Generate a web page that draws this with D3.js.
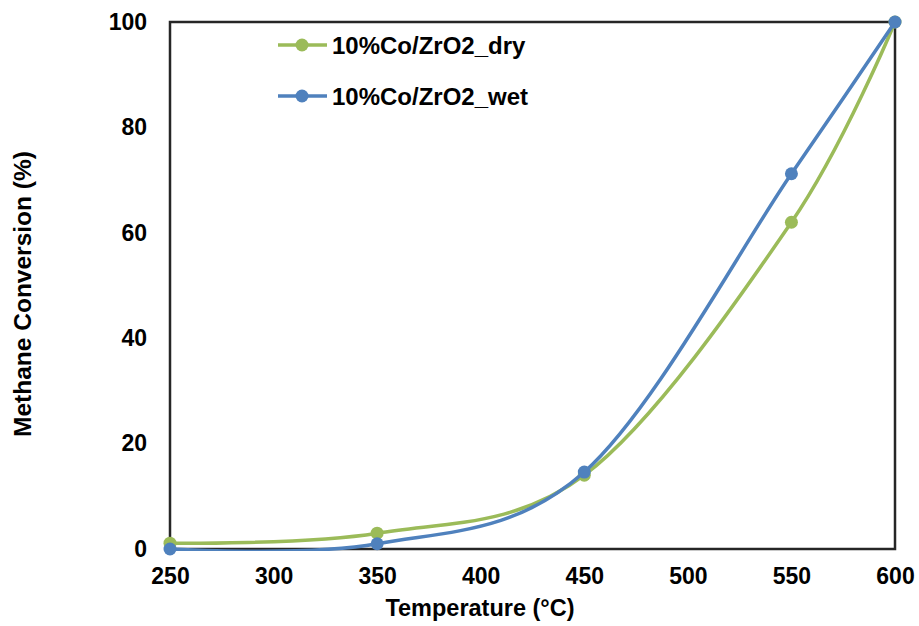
<!DOCTYPE html>
<html><head><meta charset="utf-8">
<script src="https://cdn.jsdelivr.net/npm/d3@7"></script>
<style>body{margin:0;background:#fff}svg{display:block;font-family:Arial,"Liberation Sans",sans-serif;font-weight:bold}</style>
</head><body><svg id="c" width="919" height="626"></svg>
<script>
const temps = [250, 350, 450, 550, 600];
const dryValues = [1.1, 3.0, 14.0, 62.0, 100];
const wetValues = [0.0, 1.0, 14.6, 71.2, 100];
const seriesNames = ["10%Co/ZrO2_dry", "10%Co/ZrO2_wet"];
const seriesColors = ["#9BBB59", "#4F81BD"];
const xTicks = [250, 300, 350, 400, 450, 500, 550, 600];
const yTicks = [0, 20, 40, 60, 80, 100];

const svg = d3.select("#c");
const L = 170, R = 895, T = 22, B = 549;
const x = d3.scaleLinear().domain([250, 600]).range([L, R]);
const y = d3.scaleLinear().domain([0, 100]).range([B, T]);
const FF = "Arial, 'Liberation Sans', sans-serif";

svg.append("rect").attr("width", 919).attr("height", 626).attr("fill", "#fff");
svg.append("clipPath").attr("id", "clip").append("rect")
  .attr("x", 0).attr("y", 0).attr("width", 919).attr("height", B + 2);

const xa = svg.append("g").attr("transform", `translate(0,${B})`)
  .call(d3.axisBottom(x).tickValues(xTicks).tickSize(0).tickPadding(19));
xa.select(".domain").remove();
xa.selectAll("text").attr("font-size", 23).attr("font-weight", "bold").attr("fill", "#000").attr("font-family", FF);
const ya = svg.append("g").attr("transform", `translate(${L},0)`)
  .call(d3.axisLeft(y).tickValues(yTicks).tickSize(0).tickPadding(23));
ya.select(".domain").remove();
ya.selectAll("text").attr("font-size", 23).attr("font-weight", "bold").attr("fill", "#000").attr("font-family", FF);

svg.append("rect").attr("x", L).attr("y", T).attr("width", R - L).attr("height", B - T)
  .attr("fill", "none").attr("stroke", "#262626").attr("stroke-width", 2.5);

const data = [dryValues, wetValues];
const line = d3.line().x((d, i) => x(temps[i])).y(d => y(d)).curve(d3.curveCardinal.tension(0));
data.forEach((vals, k) => {
  svg.append("path").attr("d", line(vals)).attr("fill", "none").attr("clip-path", "url(#clip)")
    .attr("stroke", seriesColors[k]).attr("stroke-width", 3.5);
  svg.selectAll(null).data(vals).enter().append("circle")
    .attr("cx", (d, i) => x(temps[i])).attr("cy", d => y(d)).attr("r", 6.5)
    .attr("fill", seriesColors[k]);
});

seriesNames.forEach((n, k) => {
  const ly = 45 + k * 51;
  svg.append("line").attr("x1", 278).attr("x2", 327).attr("y1", ly).attr("y2", ly)
    .attr("stroke", seriesColors[k]).attr("stroke-width", 3.5);
  svg.append("circle").attr("cx", 302).attr("cy", ly).attr("r", 6.5).attr("fill", seriesColors[k]);
  svg.append("text").attr("x", 332).attr("y", ly).attr("dy", "0.36em")
    .attr("font-size", 24).attr("fill", "#000").text(n);
});

svg.append("text").attr("x", 480).attr("y", 616).attr("text-anchor", "middle")
  .attr("font-size", 23.5).attr("fill", "#000").text("Temperature (°C)");
svg.append("text").attr("transform", `translate(31,294) rotate(-90)`).attr("text-anchor", "middle")
  .attr("font-size", 24.5).attr("fill", "#000").text("Methane Conversion (%)");
</script></body></html>
